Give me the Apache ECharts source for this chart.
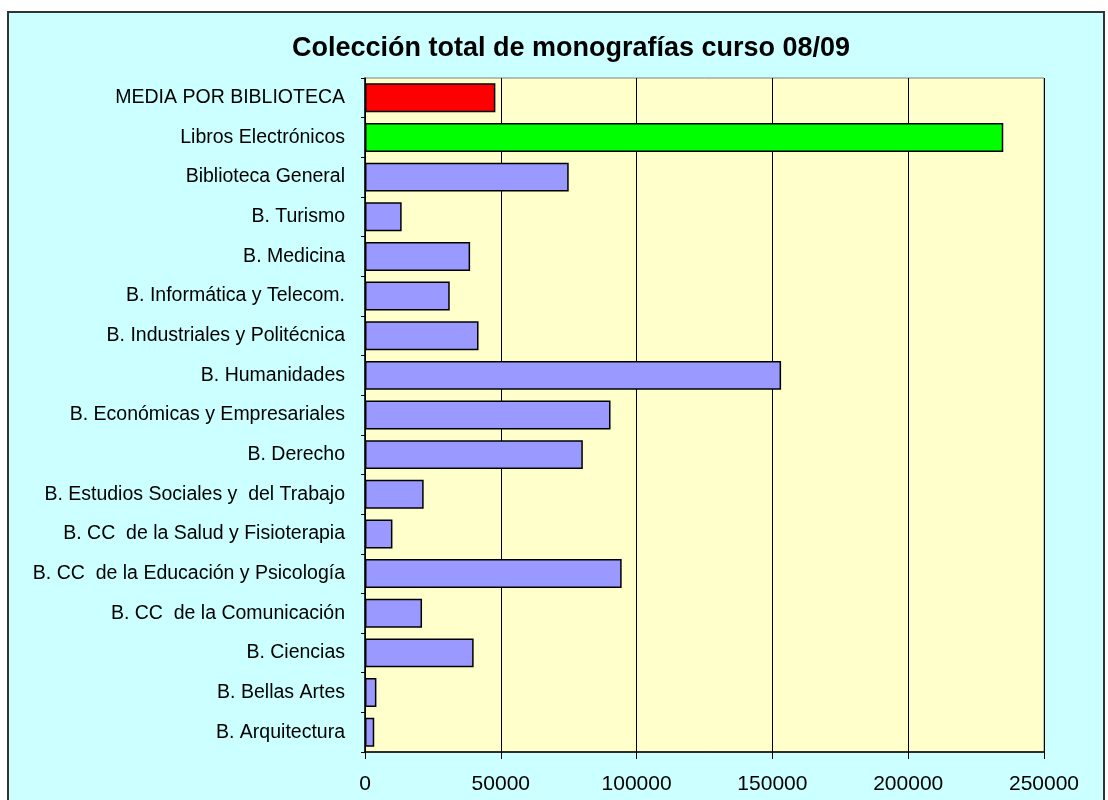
<!DOCTYPE html>
<html>
<head>
<meta charset="utf-8">
<script src="https://cdn.jsdelivr.net/npm/echarts@6/dist/echarts.min.js"></script>
<style>
  html, body { margin: 0; padding: 0; background: #fff; }
  #main { width: 1108px; height: 800px; }
</style>
</head>
<body>
<div id="main"></div>
<script>
var categories = [
    'MEDIA POR BIBLIOTECA',
    'Libros Electrónicos',
    'Biblioteca General',
    'B. Turismo',
    'B. Medicina',
    'B. Informática y Telecom.',
    'B. Industriales y Politécnica',
    'B. Humanidades',
    'B. Económicas y Empresariales',
    'B. Derecho',
    'B. Estudios Sociales y  del Trabajo',
    'B. CC  de la Salud y Fisioterapia',
    'B. CC  de la Educación y Psicología',
    'B. CC  de la Comunicación',
    'B. Ciencias',
    'B. Bellas Artes',
    'B. Arquitectura'
];
var values = [48000, 235000, 75000, 13500, 38700, 31200, 41800, 153200, 90400, 80200,
    21600, 10100, 94500, 21000, 40000, 4200, 3400];
var barColors = ['#FF0000', '#00FF00', '#9999FF', '#9999FF', '#9999FF', '#9999FF', '#9999FF',
    '#9999FF', '#9999FF', '#9999FF', '#9999FF', '#9999FF', '#9999FF', '#9999FF', '#9999FF',
    '#9999FF', '#9999FF'];
var xTicks = [0, 50000, 100000, 150000, 200000, 250000];

var myChart = echarts.init(document.getElementById('main'));
var font = 'Liberation Sans, Arial, sans-serif';

var option = {
    backgroundColor: '#FFFFFF',
    animation: false,
    graphic: [
        {
            type: 'rect',
            shape: { x: 8, y: 12, width: 1096, height: 800 },
            style: { fill: '#CCFFFF', stroke: '#333333', lineWidth: 2 },
            z: -10
        }
    ],
    title: {
        text: 'Colección total de monografías curso 08/09',
        left: 566,
        textAlign: 'center',
        top: 30,
        textStyle: { fontFamily: font, fontSize: 27, fontWeight: 'bold', color: '#000' }
    },
    grid: {
        left: 365,
        right: 64,
        top: 78,
        bottom: 48,
        show: true,
        backgroundColor: '#FFFFCC',
        borderColor: '#808080',
        borderWidth: 1
    },
    xAxis: {
        type: 'value',
        min: xTicks[0],
        max: xTicks[xTicks.length - 1],
        interval: xTicks[1] - xTicks[0],
        axisLine: { show: true, lineStyle: { color: '#000', width: 1.5 } },
        axisTick: { show: true, length: 7, lineStyle: { color: '#000' } },
        axisLabel: {
            fontFamily: font, fontSize: 21, color: '#000', margin: 22,
            formatter: function (v) { return String(v); }
        },
        splitLine: { show: true, lineStyle: { color: '#000', width: 1 } }
    },
    yAxis: {
        type: 'category',
        inverse: true,
        data: categories,
        axisLine: { show: true, lineStyle: { color: '#000', width: 1.5 } },
        axisTick: { show: true, length: 4, lineStyle: { color: '#000' } },
        axisLabel: { fontFamily: font, fontSize: 19.5, color: '#000', margin: 20 }
    },
    series: [
        {
            type: 'bar',
            barCategoryGap: '27%',
            data: values.map(function (v, i) {
                return { value: v, itemStyle: { color: barColors[i] } };
            }),
            itemStyle: { borderColor: '#000', borderWidth: 1.5 }
        }
    ]
};
myChart.setOption(option);
</script>
</body>
</html>
